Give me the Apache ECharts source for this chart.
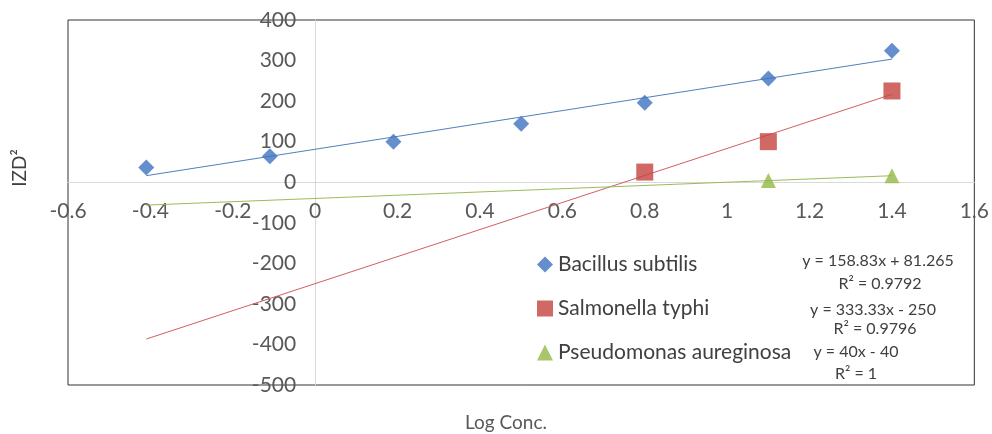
<!DOCTYPE html>
<html>
<head>
<meta charset="utf-8">
<script src="https://cdn.jsdelivr.net/npm/echarts@6/dist/echarts.min.js"></script>
<style>
  html, body { margin: 0; padding: 0; background: #fff; }
  #chart { width: 992px; height: 434px; }
</style>
</head>
<body>
<div id="chart"></div>
<script>
// Log concentration (x) shared by all organisms
const logConc = [-0.41, -0.11, 0.19, 0.5, 0.8, 1.1, 1.4];

// Squared inhibition zone diameters per organism (null = no zone)
const bacillus = [36, 64, 100, 144, 196, 256, 324];
const salmonella = [null, null, null, null, 25, 100, 225];
const pseudomonas = [null, null, null, null, null, 4, 16];

const seriesNames = ['Bacillus subtilis', 'Salmonella typhi', 'Pseudomonas aureginosa'];

// Linear trendline coefficients (y = slope * x + intercept) and R²
const slopes = [158.83, 333.33, 40];
const intercepts = [81.265, -250, -40];
const rSquared = ['0.9792', '0.9796', '1'];
const equationTexts = ['y = 158.83x + 81.265', 'y = 333.33x - 250', 'y = 40x - 40'];

// Axis ticks
const xTicks = { min: -0.6, max: 1.6, interval: 0.2 };
const yTicks = { min: -500, max: 400, interval: 100 };

const markerColors = ['#3F72C0', '#C4433F', '#93B846'];
const lineColors = ['#4F81BD', '#D0605D', '#9BBB59'];
const symbols = ['diamond', 'rect', 'triangle'];
const symbolSizes = [16, 17, 15];

const FONT = 'Lato, "Liberation Sans", sans-serif';

const GRID = { left: 68, right: 14, top: 20, bottom: 49 };
const W = 992, H = 434;

function pairs(ys) {
  return logConc.map((x, i) => [x, ys[i]]).filter(p => p[1] !== null);
}

const values = [bacillus, salmonella, pseudomonas];
const xLo = Math.min(...logConc);
const xHi = Math.max(...logConc);

const scatterSeries = values.map((ys, i) => ({
  name: seriesNames[i],
  type: 'scatter',
  data: pairs(ys),
  symbol: symbols[i],
  symbolSize: symbolSizes[i],
  itemStyle: { color: markerColors[i] },
  z: 5
}));

const trendSeries = values.map((ys, i) => ({
  name: seriesNames[i] + ' trend',
  type: 'line',
  data: [xLo, xHi].map(x => [x, slopes[i] * x + intercepts[i]]),
  symbol: 'none',
  silent: true,
  lineStyle: { color: lineColors[i], width: 1 },
  z: 3
}));

// Trendline equation labels
const eqPos = [
  { eq: [878, 261], r: [880, 284] },
  { eq: [873, 310], r: [875, 329] },
  { eq: [856, 352], r: [856, 374] }
];
const eqGraphics = [];
eqPos.forEach((p, i) => {
  eqGraphics.push({
    type: 'text', x: p.eq[0], y: p.eq[1], z: 10,
    style: { text: equationTexts[i], font: '16px ' + FONT, fill: '#404040', textAlign: 'center', textVerticalAlign: 'middle' }
  });
  eqGraphics.push({
    type: 'text', x: p.r[0], y: p.r[1], z: 10,
    style: { text: 'R² = ' + rSquared[i], font: '16px ' + FONT, fill: '#404040', textAlign: 'center', textVerticalAlign: 'middle' }
  });
});

const axisLineStyle = { color: '#d9d9d9', width: 1 };
const axisLabelStyle = { color: '#595959', fontSize: 21, fontFamily: FONT, margin: 19 };

const chart = echarts.init(document.getElementById('chart'), null, { renderer: 'canvas' });
chart.setOption({
  animation: false,
  backgroundColor: '#fff',
  grid: {
    left: GRID.left, right: GRID.right, top: GRID.top, bottom: GRID.bottom,
    show: true, borderColor: '#333', borderWidth: 1, backgroundColor: 'transparent'
  },
  xAxis: {
    type: 'value', position: 'bottom',
    min: xTicks.min, max: xTicks.max, interval: xTicks.interval,
    axisLine: { show: true, onZero: false, lineStyle: axisLineStyle },
    axisTick: { show: false },
    splitLine: { show: false },
    axisLabel: axisLabelStyle
  },
  yAxis: {
    type: 'value', position: 'left',
    min: yTicks.min, max: yTicks.max, interval: yTicks.interval,
    axisLine: { show: true, onZero: false, lineStyle: axisLineStyle },
    axisTick: { show: false },
    splitLine: { show: false },
    axisLabel: axisLabelStyle
  },
  legend: {
    data: seriesNames.map((n, i) => ({ name: n, icon: symbols[i] })),
    orient: 'vertical',
    left: 532, top: 249,
    itemWidth: 16, itemHeight: 16, itemGap: 23,
    textStyle: { color: '#404040', fontSize: 21, fontFamily: FONT },
    selectedMode: false
  },
  graphic: [
    {
      type: 'text', x: 20, y: 168, rotation: Math.PI / 2,
      style: { text: 'IZD²', font: '19px ' + FONT, fill: '#404040', textAlign: 'center', textVerticalAlign: 'middle' }
    },
    {
      type: 'text', x: 506, y: 423,
      style: { text: 'Log Conc.', font: '19px ' + FONT, fill: '#595959', textAlign: 'center', textVerticalAlign: 'middle' }
    }
  ].concat(eqGraphics),
  series: trendSeries.concat(scatterSeries)
});

// Place both axes (line and labels) where the other axis is zero
const zero = chart.convertToPixel({ gridIndex: 0 }, [0, 0]);
chart.setOption({
  xAxis: { offset: zero[1] - (H - GRID.bottom) },
  yAxis: { offset: GRID.left - zero[0] }
});
</script>
</body>
</html>
